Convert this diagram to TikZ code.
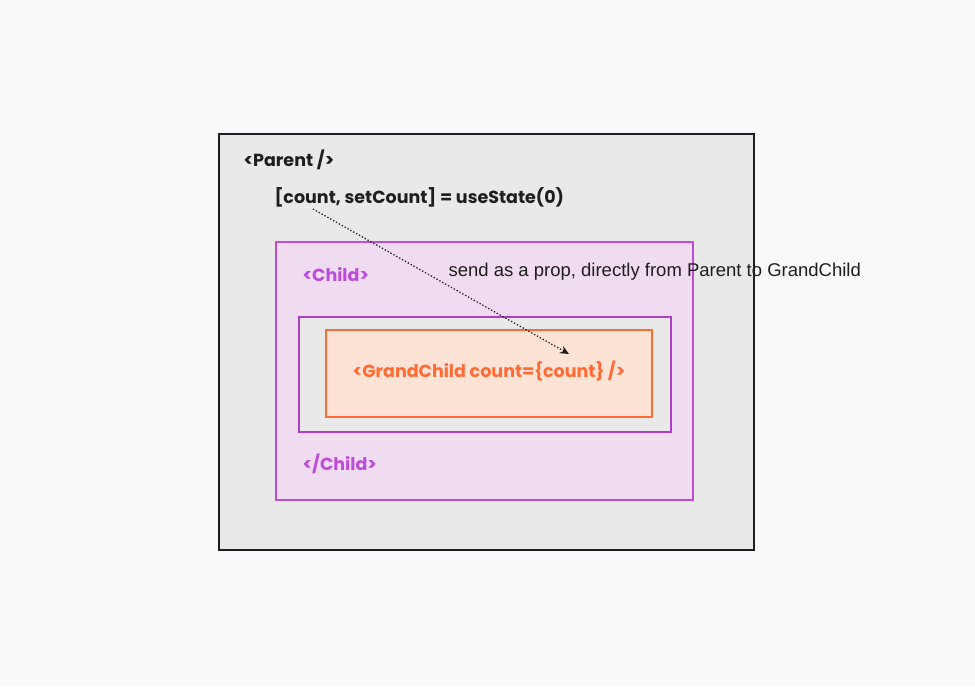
\documentclass[tikz,border=0pt]{standalone}
\usepackage{fontspec}
\setmainfont{Liberation Sans}
\newfontfamily\handfont{Poppins}
\usetikzlibrary{arrows.meta}
\definecolor{pagebg}{HTML}{F8F9FB}
\definecolor{boxgray}{HTML}{E9E9E9}
\definecolor{inkdark}{HTML}{1E1E1E}
\definecolor{grape}{HTML}{BE4BDB}
\definecolor{grapedark}{HTML}{AE3EC9}
\definecolor{grapefill}{HTML}{F0DCF0}
\definecolor{tangerine}{HTML}{FF6B35}
\definecolor{peachfill}{HTML}{FDE2D6}
\begin{document}
\begin{tikzpicture}[x=1pt,y=-1pt,
    hand/.style={font=\handfont\bfseries\fontsize{17.5}{21}\selectfont},
    plain/.style={font=\fontsize{18.5}{22}\selectfont, text=inkdark}]
  \fill[pagebg] (0,0) rectangle (975,686);
  \draw[inkdark, line width=1.5, fill=boxgray] (219,134) rectangle (754,550);
  \draw[grape, line width=1.3, fill=grapefill] (276,242) rectangle (693,500);
  \draw[grapedark, line width=2.4, fill=boxgray] (299,317) rectangle (671,432);
  \draw[tangerine, line width=1.6, fill=peachfill] (326,330) rectangle (652,417);
  \node[hand, text=inkdark, anchor=west] (parent) at (240,160) {<Parent />};
  \node[hand, text=inkdark, anchor=west] (state) at (271,197) {[count, setCount] = useState(0)};
  \node[hand, text=grape, anchor=west] (childopen) at (299,275) {<Child>};
  \node[hand, text=grape, anchor=west] (childclose) at (299,464) {</Child>};
  \node[hand, text=tangerine] (grandchild) at (489,371) {<GrandChild count=\{count\} />};
  \node[plain, anchor=west] (note) at (445,272) {send as a prop, directly from Parent to GrandChild};
  \coordinate (countfoot) at (313,209);
  \coordinate (propend) at (569,354);
  \draw[inkdark, dotted, line width=1.3, -{Stealth[length=9pt,width=8pt]}] (countfoot) -- (propend);
\end{tikzpicture}
\end{document}
